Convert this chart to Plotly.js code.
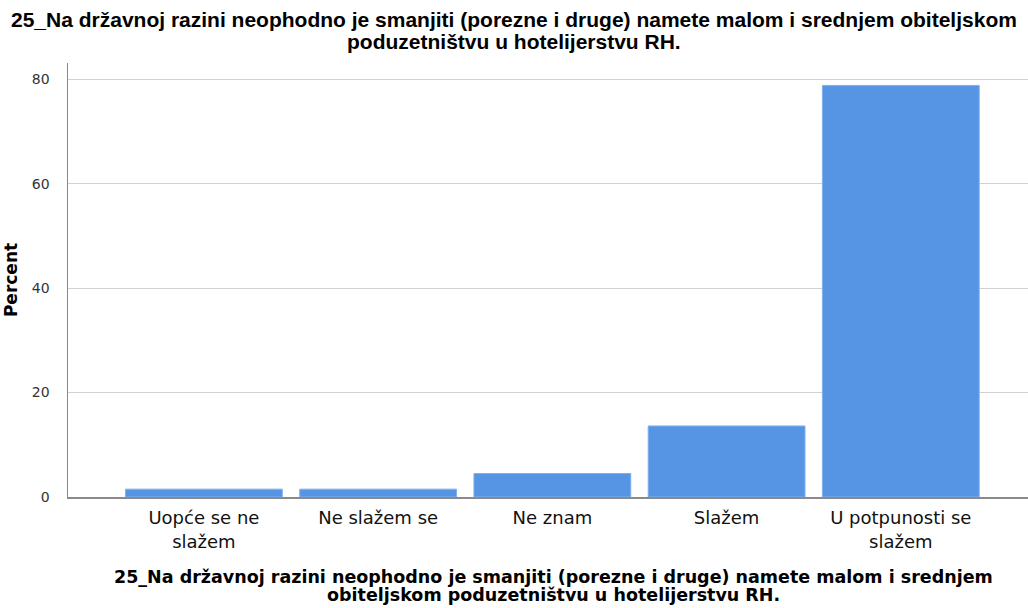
<!DOCTYPE html>
<html>
<head>
<meta charset="utf-8">
<script src="https://cdn.plot.ly/plotly-3.0.1.min.js"></script>
<style>html,body{margin:0;padding:0;background:#fff;}#chart{width:1028px;height:608px;}</style>
</head>
<body>
<div id="chart"></div>
<script>
var categories = ["Uopće se ne slažem", "Ne slažem se", "Ne znam", "Slažem", "U potpunosti se slažem"];
var percents = [1.5, 1.5, 4.5, 13.6, 78.8];
var tickLabels = ["Uopće se ne<br>slažem", "Ne slažem se", "Ne znam", "Slažem", "U potpunosti se<br>slažem"];
var yTicks = [0, 20, 40, 60, 80];
var titleLines = ["25_Na državnoj razini neophodno je smanjiti (porezne i druge) namete malom i srednjem obiteljskom", "poduzetništvu u hotelijerstvu RH."];
var xTitleLines = ["25_Na državnoj razini neophodno je smanjiti (porezne i druge) namete malom i srednjem", "obiteljskom poduzetništvu u hotelijerstvu RH."];
var yTitleText = "Percent";

var W = 1028, H = 608, ML = 68, MR = 0, MT = 63, MB = 111;
var plotW = W - ML - MR, plotH = H - MT - MB;
function py(pix) { return (H - MB - pix) / plotH; }
function px(pix) { return (pix - ML) / plotW; }

var trace = {
  type: 'bar',
  x: categories,
  y: percents,
  marker: {color: '#5595e3', line: {color: '#7eb0ee', width: 1}},
  hoverinfo: 'x+y'
};

var titleFont = {family: 'Liberation Sans Narrow, Arial Narrow, sans-serif', size: 21, color: '#000', weight: 'bold'};
var xTitleFont = {family: 'DejaVu Sans, sans-serif', size: 17.5, color: '#000', weight: 'bold'};

var annotations = [];
var titleCenters = [20, 41];
titleLines.forEach(function (t, i) {
  annotations.push({text: t, xref: 'paper', yref: 'paper', x: px(W / 2), y: py(titleCenters[i]),
    xanchor: 'center', yanchor: 'middle', showarrow: false, font: titleFont, borderpad: 0});
});
var xTitleCenters = [576.5, 595];
xTitleLines.forEach(function (t, i) {
  annotations.push({text: t, xref: 'paper', yref: 'paper', x: px(553), y: py(xTitleCenters[i]),
    xanchor: 'center', yanchor: 'middle', showarrow: false, font: xTitleFont, borderpad: 0});
});

var layout = {
  width: W, height: H,
  paper_bgcolor: '#ffffff', plot_bgcolor: '#ffffff',
  margin: {l: ML, r: MR, t: MT, b: MB},
  bargap: 0.1,
  showlegend: false,
  annotations: annotations,
  xaxis: {
    type: 'category',
    categoryarray: categories,
    tickvals: categories,
    ticktext: tickLabels,
    range: [-0.78, 4.73],
    showgrid: false,
    showline: true, linecolor: '#8a8a8a', linewidth: 1.5,
    ticks: 'outside', ticklen: 4, tickcolor: 'rgba(0,0,0,0)',
    tickfont: {family: 'DejaVu Sans, sans-serif', size: 18, color: '#111'},
    automargin: false,
    fixedrange: true
  },
  yaxis: {
    range: [0, 83.1],
    tickvals: yTicks,
    showgrid: true, gridcolor: '#d2d2d2', gridwidth: 1,
    zeroline: false,
    showline: true, linecolor: '#8a8a8a', linewidth: 1.5,
    ticks: 'outside', ticklen: 14, tickcolor: 'rgba(0,0,0,0)',
    tickfont: {family: 'DejaVu Sans, sans-serif', size: 14, color: '#333'},
    title: {
      text: yTitleText,
      font: {family: 'DejaVu Sans, sans-serif', size: 17, color: '#000', weight: 'bold'},
      standoff: 10
    },
    automargin: false,
    fixedrange: true
  }
};

Plotly.newPlot('chart', [trace], layout, {displayModeBar: false, staticPlot: true});
</script>
</body>
</html>
